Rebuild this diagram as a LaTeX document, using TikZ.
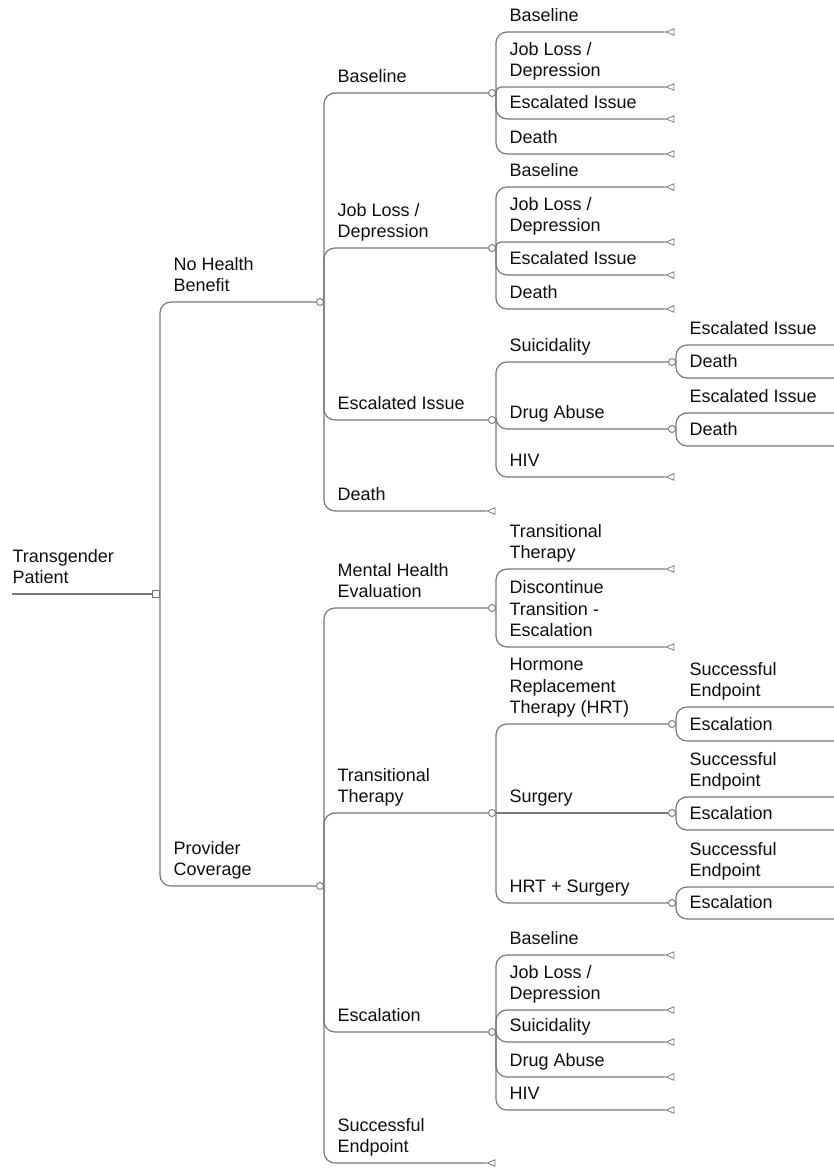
\documentclass[tikz,border=0pt]{standalone}
\usepackage{fontspec}
\setmainfont{Liberation Sans}
\usepackage{tikz}
\usetikzlibrary{shapes.geometric, positioning}
\definecolor{treegray}{RGB}{120,120,120}
\definecolor{treetext}{RGB}{15,15,15}

\begin{document}
\begin{tikzpicture}[
    x=1pt, y=-1pt,
    branch/.style={draw=treegray, line width=1.2pt, rounded corners=11pt},
    chance/.style={
        circle,
        draw=treegray,
        fill=white,
        line width=0.9pt,
        inner sep=0pt,
        minimum size=7pt
    },
    decision/.style={
        rectangle,
        draw=treegray,
        fill=white,
        line width=0.9pt,
        inner sep=0pt,
        minimum size=7pt
    },
    terminal/.style={
        isosceles triangle,
        shape border rotate=180,
        isosceles triangle stretches,
        draw=treegray,
        line width=0.8pt,
        inner sep=0pt,
        minimum width=6.5pt,
        minimum height=8pt,
        anchor=apex
    },
    txt/.style={
        anchor=south west,
        inner sep=0pt,
        align=left,
        text=treetext,
        font=\fontsize{18}{21.5}\selectfont,
        execute at end node=\strut,
        yshift=3pt
    },
    brlabel/.style={txt, xshift=13pt}
]
    \useasboundingbox (0,0) rectangle (834,1169);

    % Root and decision
    \coordinate (root) at (12,594);
    \node[decision] (dec) at (156,594) {};
    \draw[branch] (root) -- node[txt, pos=0]{Transgender\\Patient} (dec);

    % Level 1: coverage choice
    \node[chance] (nhb) at (320,302) {};
    \node[chance] (pc) at (320,886) {};
    \draw[branch] (dec.east) |- node[brlabel]{No Health\\Benefit} (nhb);
    \draw[branch] (dec.east) |- node[brlabel]{Provider\\Coverage} (pc);

    % Level 2: No Health Benefit
    \node[chance] (nhb-base) at (492,93) {};
    \node[chance] (nhb-job) at (492,248) {};
    \node[chance] (nhb-esc) at (492,420) {};
    \node[terminal] (nhb-death) at (486,511) {};
    \draw[branch] (nhb.east) |- node[brlabel]{Baseline} (nhb-base);
    \draw[branch] (nhb.east) |- node[brlabel]{Job Loss /\\Depression} (nhb-job);
    \draw[branch] (nhb.east) |- node[brlabel]{Escalated Issue} (nhb-esc);
    \draw[branch] (nhb.east) |- node[brlabel]{Death} (nhb-death);

    % Level 3: Baseline
    \node[terminal] (b-base) at (665,32) {};
    \node[terminal] (b-job) at (665,87) {};
    \node[terminal] (b-esc) at (665,119) {};
    \node[terminal] (b-death) at (665,154) {};
    \draw[branch] (nhb-base.east) |- node[brlabel]{Baseline} (b-base);
    \draw[branch, rounded corners=5pt] (nhb-base.east) |- node[brlabel]{Job Loss /\\Depression} (b-job);
    \draw[branch] (nhb-base.east) |- node[brlabel]{Escalated Issue} (b-esc);
    \draw[branch] (nhb-base.east) |- node[brlabel]{Death} (b-death);

    % Level 3: Job Loss / Depression
    \node[terminal] (j-base) at (665,187) {};
    \node[terminal] (j-job) at (665,242) {};
    \node[terminal] (j-esc) at (665,275) {};
    \node[terminal] (j-death) at (665,309) {};
    \draw[branch] (nhb-job.east) |- node[brlabel]{Baseline} (j-base);
    \draw[branch, rounded corners=5pt] (nhb-job.east) |- node[brlabel]{Job Loss /\\Depression} (j-job);
    \draw[branch] (nhb-job.east) |- node[brlabel]{Escalated Issue} (j-esc);
    \draw[branch] (nhb-job.east) |- node[brlabel]{Death} (j-death);

    % Level 3: Escalated Issue
    \node[chance] (e-sui) at (672,362) {};
    \node[chance] (e-drug) at (672,429) {};
    \node[terminal] (e-hiv) at (665,477) {};
    \draw[branch] (nhb-esc.east) |- node[brlabel]{Suicidality} (e-sui);
    \draw[branch] (nhb-esc.east) |- node[brlabel]{Drug Abuse} (e-drug);
    \draw[branch] (nhb-esc.east) |- node[brlabel]{HIV} (e-hiv);

    % Level 4: Suicidality / Drug Abuse (run off the page)
    \coordinate (s-esc) at (840,345);
    \coordinate (s-death) at (840,378);
    \coordinate (d-esc) at (840,413);
    \coordinate (d-death) at (840,446);
    \draw[branch] (e-sui.east) |- node[brlabel]{Escalated Issue} (s-esc);
    \draw[branch] (e-sui.east) |- node[brlabel]{Death} (s-death);
    \draw[branch] (e-drug.east) |- node[brlabel]{Escalated Issue} (d-esc);
    \draw[branch] (e-drug.east) |- node[brlabel]{Death} (d-death);

    % Level 2: Provider Coverage
    \node[chance] (pc-mhe) at (492,608) {};
    \node[chance] (pc-tt) at (492,813) {};
    \node[chance] (pc-esc) at (492,1032) {};
    \node[terminal] (pc-se) at (486,1163) {};
    \draw[branch] (pc.east) |- node[brlabel]{Mental Health\\Evaluation} (pc-mhe);
    \draw[branch] (pc.east) |- node[brlabel]{Transitional\\Therapy} (pc-tt);
    \draw[branch] (pc.east) |- node[brlabel]{Escalation} (pc-esc);
    \draw[branch] (pc.east) |- node[brlabel]{Successful\\Endpoint} (pc-se);

    % Level 3: Mental Health Evaluation
    \node[terminal] (m-tt) at (665,569) {};
    \node[terminal] (m-disc) at (665,647) {};
    \draw[branch] (pc-mhe.east) |- node[brlabel]{Transitional\\Therapy} (m-tt);
    \draw[branch] (pc-mhe.east) |- node[brlabel]{Discontinue\\Transition -\\Escalation} (m-disc);

    % Level 3: Transitional Therapy
    \node[chance] (t-hrt) at (672,724) {};
    \node[chance] (t-srg) at (672,813) {};
    \node[chance] (t-both) at (672,903) {};
    \draw[branch] (pc-tt.east) |- node[brlabel]{Hormone\\Replacement\\Therapy (HRT)} (t-hrt);
    \draw[branch] (pc-tt.east) -- node[brlabel, pos=0]{Surgery} (t-srg);
    \draw[branch] (pc-tt.east) |- node[brlabel]{HRT + Surgery} (t-both);

    % Level 4: treatment outcomes (run off the page)
    \coordinate (h-se) at (840,707);
    \coordinate (h-esc) at (840,741);
    \coordinate (g-se) at (840,797);
    \coordinate (g-esc) at (840,830);
    \coordinate (hg-se) at (840,887);
    \coordinate (hg-esc) at (840,919);
    \draw[branch] (t-hrt.east) |- node[brlabel]{Successful\\Endpoint} (h-se);
    \draw[branch] (t-hrt.east) |- node[brlabel]{Escalation} (h-esc);
    \draw[branch] (t-srg.east) |- node[brlabel]{Successful\\Endpoint} (g-se);
    \draw[branch] (t-srg.east) |- node[brlabel]{Escalation} (g-esc);
    \draw[branch] (t-both.east) |- node[brlabel]{Successful\\Endpoint} (hg-se);
    \draw[branch] (t-both.east) |- node[brlabel]{Escalation} (hg-esc);

    % Level 3: Escalation
    \node[terminal] (x-base) at (665,955) {};
    \node[terminal] (x-job) at (665,1010) {};
    \node[terminal] (x-sui) at (665,1042) {};
    \node[terminal] (x-drug) at (665,1077) {};
    \node[terminal] (x-hiv) at (665,1110) {};
    \draw[branch] (pc-esc.east) |- node[brlabel]{Baseline} (x-base);
    \draw[branch] (pc-esc.east) |- node[brlabel]{Job Loss /\\Depression} (x-job);
    \draw[branch] (pc-esc.east) |- node[brlabel]{Suicidality} (x-sui);
    \draw[branch] (pc-esc.east) |- node[brlabel]{Drug Abuse} (x-drug);
    \draw[branch] (pc-esc.east) |- node[brlabel]{HIV} (x-hiv);
\end{tikzpicture}
\end{document}
